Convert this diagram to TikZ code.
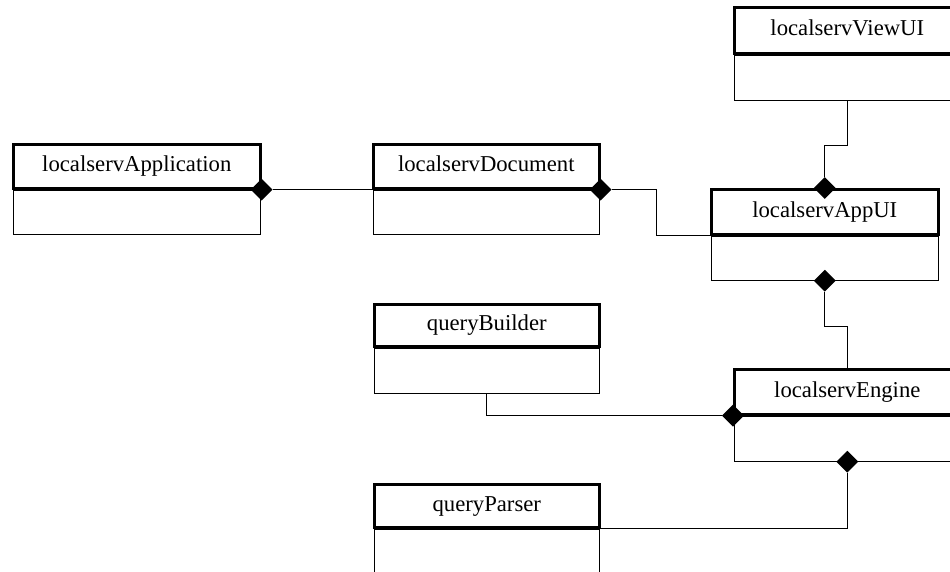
\documentclass[tikz,border=0pt]{standalone}
\usepackage{fontspec}
\setmainfont{Liberation Serif}
\usetikzlibrary{shapes.geometric}
\begin{document}
\begin{tikzpicture}[x=1pt,y=-1pt,
  hdr/.style={draw, line width=2.6pt, anchor=north west, inner sep=0pt,
    minimum height=44pt, text height=15.5pt, text depth=5pt,
    font=\fontsize{22.7}{27}\selectfont},
  body/.style={draw, line width=1.1pt, anchor=north, inner sep=0pt, minimum height=44pt},
  dia/.style={diamond, fill=black, draw=none, inner sep=0pt, minimum width=22pt, minimum height=22pt},
  conn/.style={line width=1.1pt}]
\useasboundingbox (0,0) rectangle (950,571);
\clip (0,0) rectangle (950,571);

% class boxes: name compartment and empty attribute compartment
\node[hdr, minimum width=247pt] (app) at (12,143) {localservApplication};
\node[body, minimum width=247pt] (appb) at (app.south) {};

\node[hdr, minimum width=226pt] (doc) at (372,143) {localservDocument};
\node[body, minimum width=226pt] (docb) at (doc.south) {};

\node[hdr, minimum width=227pt, minimum height=45pt] (appui) at (710,188) {localservAppUI};
\node[body, minimum width=227pt] (appuib) at (appui.south) {};

\node[hdr, minimum width=226pt, minimum height=46pt] (view) at (733,6) {localservViewUI};
\node[body, minimum width=226pt, minimum height=45pt] (viewb) at (view.south) {};

\node[hdr, minimum width=225pt, minimum height=42pt] (qb) at (373,303) {queryBuilder};
\node[body, minimum width=225pt, minimum height=45pt] (qbb) at (qb.south) {};

\node[hdr, minimum width=226pt, minimum height=45pt] (eng) at (733,368) {localservEngine};
\node[body, minimum width=226pt, minimum height=45pt] (engb) at (eng.south) {};

\node[hdr, minimum width=225pt, minimum height=43pt] (qp) at (373,483) {queryParser};
\node[body, minimum width=225pt] (qpb) at (qp.south) {};

% composition diamonds
\node[dia] (d1) at (app.south east) {};
\node[dia] (d2) at (doc.south east) {};
\node[dia] (d3) at (appui.north) {};
\node[dia] (d4) at (appuib.south) {};
\node[dia] (d5) at (eng.south west) {};
\node[dia] (d6) at (engb.south) {};

% connectors
\draw[conn] (d1.east) -- (doc.south west);
\draw[conn] (d2.east) -- ++(45,0) |- (appui.south west);
\draw[conn] (viewb.south) -- ++(0,45) -| (d3.north);
\draw[conn] (d4.south) -- ++(0,35) -| (eng.north);
\draw[conn] (qbb.south) |- (d5.west);
\draw[conn] (d6.south) |- (qp.south east);
\end{tikzpicture}
\end{document}
